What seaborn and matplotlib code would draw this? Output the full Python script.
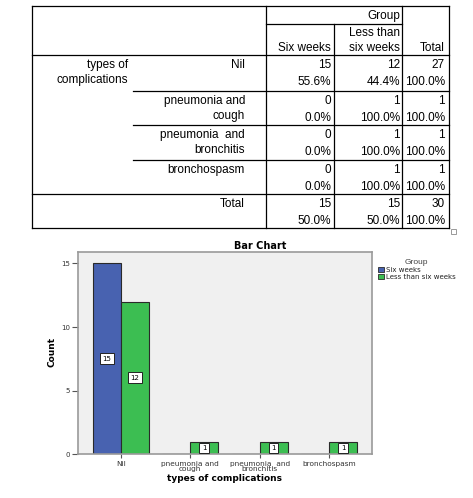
import matplotlib
matplotlib.use("Agg")
import matplotlib.pyplot as plt
import seaborn as sns
import pandas as pd
from matplotlib.patches import Rectangle

categories = ["Nil", "pneumonia and\ncough", "pneumonia  and\nbronchitis", "bronchospasm"]
row_labels = [["Nil"], ["pneumonia and", "cough"], ["pneumonia  and", "bronchitis"], ["bronchospasm"]]
groups = ["Six weeks", "Less than six weeks"]
six_weeks = [15, 0, 0, 0]
less_than_six = [12, 1, 1, 1]
row_totals = [27, 1, 1, 1]
six_pct = ["55.6%", "0.0%", "0.0%", "0.0%"]
less_pct = ["44.4%", "100.0%", "100.0%", "100.0%"]
total_pct = ["100.0%", "100.0%", "100.0%", "100.0%"]
col_totals = [15, 15, 30]
col_pct = ["50.0%", "50.0%", "100.0%"]

BLUE = "#4862b0"
GREEN = "#3cbe52"

plt.rcParams["font.family"] = ["Liberation Sans", "DejaVu Sans"]

W, H = 473, 498
fig = plt.figure(figsize=(W / 100, H / 100), dpi=100)

# ---- the crosstab, drawn in pixel coordinates ----
tab = fig.add_axes([0, 0, 1, 1])
tab.set_xlim(0, W)
tab.set_ylim(H, 0)
tab.axis("off")

def hline(y, x0, x1):
    tab.plot([x0, x1], [y, y], color="black", lw=0.9, solid_capstyle="projecting")

def vline(x, y0, y1):
    tab.plot([x, x], [y0, y1], color="black", lw=0.9, solid_capstyle="projecting")

L, R, T, B = 32, 449, 6, 228
c1, c2, c3 = 266, 334, 402
inner = 133
hline(T, L, R)
hline(B, L, R)
vline(L, T, B)
vline(R, T, B)
hline(23.5, c1, c3)
hline(55, L, R)
for y in [90.5, 125, 159.5]:
    hline(y, inner, R)
hline(193.5, L, R)
vline(c1, T, B)
vline(c2, 23.5, B)
vline(c3, T, B)

fs = 8.5
def txt(x, y, s):
    tab.text(x, y, s, ha="right", va="center", fontsize=fs)

txt(400, 16, "Group")
txt(400, 33, "Less than")
txt(400, 47.5, "six weeks")
txt(331, 47.5, "Six weeks")
txt(445, 47.5, "Total")
txt(128, 65, "types of")
txt(128, 80, "complications")

row_top = [55, 90.5, 125, 159.5]
for i, top in enumerate(row_top):
    for j, line in enumerate(row_labels[i]):
        txt(245, top + 10 + j * 15, line)
    txt(331, top + 10, str(six_weeks[i]))
    txt(400, top + 10, str(less_than_six[i]))
    txt(445, top + 10, str(row_totals[i]))
    txt(331, top + 27, six_pct[i])
    txt(400, top + 27, less_pct[i])
    txt(445, top + 27, total_pct[i])

txt(245, 203.5, "Total")
for x, v, p in zip([331, 400, 445], col_totals, col_pct):
    txt(x, 203.5, str(v))
    txt(x, 220.5, p)

tab.add_patch(Rectangle((451, 229), 5, 5, fill=False, ec="#999999", lw=0.7))

# ---- bar chart ----
x0, x1, ytop, ybot = 77.7, 372.3, 252.3, 454.3
ax = fig.add_axes([x0 / W, 1 - ybot / H, (x1 - x0) / W, (ybot - ytop) / H])

df = pd.DataFrame({
    "types of complications": categories * 2,
    "Group": [groups[0]] * len(categories) + [groups[1]] * len(categories),
    "Count": six_weeks + less_than_six,
})
sns.barplot(data=df, x="types of complications", y="Count", hue="Group",
            order=categories, hue_order=groups, palette=[BLUE, GREEN],
            saturation=1, width=0.8, edgecolor="#2a2a2a", linewidth=0.8, ax=ax)

for cont, vals in zip(ax.containers, [six_weeks, less_than_six]):
    ax.bar_label(cont, labels=[str(v) if v else "" for v in vals], label_type="center",
                 fontsize=5, family="DejaVu Sans",
                 bbox=dict(boxstyle="square,pad=0.35", fc="white", ec="#222222", lw=0.7))

ax.set_xlim(-0.62, 3.62)
ax.set_ylim(0, 15.87)
ax.set_yticks([0, 5, 10, 15])
ax.set_facecolor("#f0f0f0")
for s in ax.spines.values():
    s.set_color("#9a9a9a")
    s.set_linewidth(1.2)
ax.tick_params(axis="y", length=4.5, width=0.8, color="#555555", labelsize=5, labelcolor="#333333", pad=1)
ax.tick_params(axis="x", length=3, width=0.8, color="#555555", labelsize=5.3, labelcolor="#333333", pad=1.5)
for lab in ax.get_xticklabels():
    lab.set_family("DejaVu Sans")
    lab.set_linespacing(0.8)
for lab in ax.get_yticklabels():
    lab.set_family("DejaVu Sans")

ax.set_xlabel("types of complications", fontsize=6.5, fontweight="bold", family="DejaVu Sans")
ax.xaxis.label.set_va("center")
ax.xaxis.set_label_coords(224.5 / W, 1 - 478.7 / H, transform=fig.transFigure)
ax.set_ylabel("Count", fontsize=6.5, fontweight="bold", family="DejaVu Sans")
ax.yaxis.label.set_va("center")
ax.yaxis.set_label_coords(51.7 / W, 1 - 352 / H, transform=fig.transFigure)

ax.set_title("Bar Chart", fontsize=7, fontweight="bold", family="DejaVu Sans",
             x=(260 - x0) / (x1 - x0), y=(ybot - 246) / (ybot - ytop), va="center", pad=0)

handles, labels = ax.get_legend_handles_labels()
ax.legend(handles, labels, title="Group", loc="upper left",
          bbox_to_anchor=(372 / W, 1 - 253 / H), bbox_transform=fig.transFigure,
          frameon=False, title_fontsize=6, handlelength=0.95, handleheight=0.8,
          handletextpad=0.3, labelspacing=0.15, borderpad=0.3,
          prop={"family": "DejaVu Sans", "size": 5})
leg = ax.get_legend()
leg.get_title().set_color("#444444")
for t in leg.get_texts():
    t.set_color("#222222")
for h in leg.legend_handles:
    h.set_edgecolor("#2a2a2a")
    h.set_linewidth(0.6)

fig.savefig("out.png", dpi=100)
